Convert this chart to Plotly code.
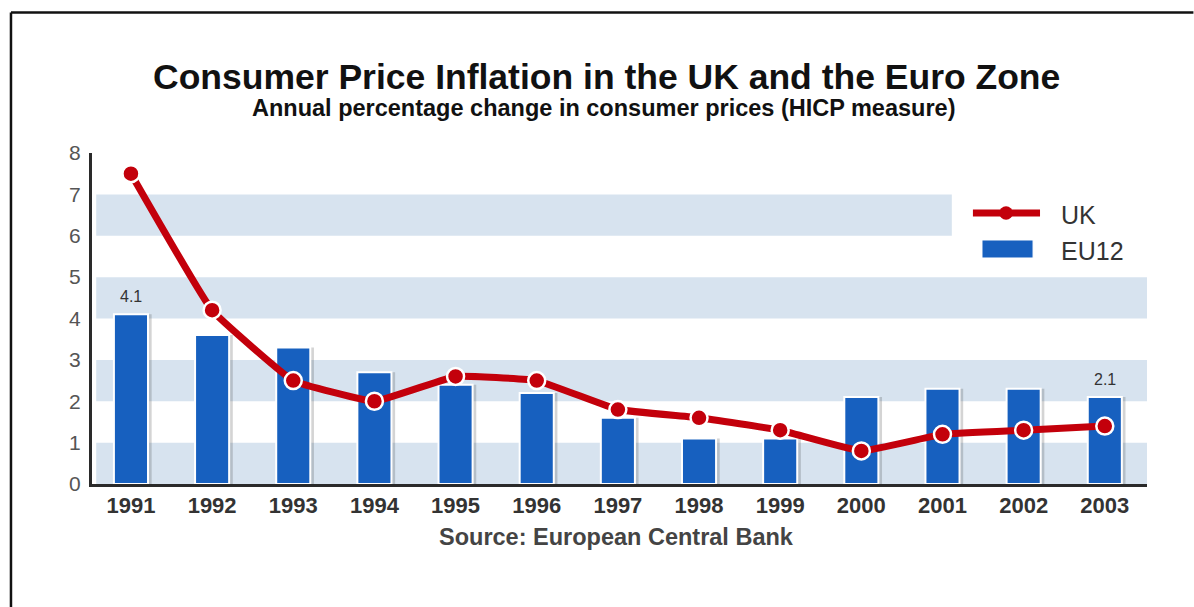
import plotly.graph_objects as go

# Annual HICP inflation, %
years = ["1991", "1992", "1993", "1994", "1995", "1996", "1997",
         "1998", "1999", "2000", "2001", "2002", "2003"]
uk = [7.5, 4.2, 2.5, 2.0, 2.6, 2.5, 1.8, 1.6, 1.3, 0.8, 1.2, 1.3, 1.4]
eu12 = [4.1, 3.6, 3.3, 2.7, 2.4, 2.2, 1.6, 1.1, 1.1, 2.1, 2.3, 2.3, 2.1]
y_ticks = [0, 1, 2, 3, 4, 5, 6, 7, 8]
labelled_years = [0, len(years) - 1]

RED = "#C3000B"
BLUE = "#1760BF"
BAND = "#D7E3EF"
FONT = "Liberation Sans, Arial, sans-serif"

idx = list(range(len(years)))
BAR_W = 0.42

fig = go.Figure()

# soft drop shadow behind each bar
fig.add_trace(go.Bar(
    x=idx, y=eu12, width=BAR_W, offset=-BAR_W / 2 + 0.045,
    marker=dict(color="rgba(60,60,60,0.22)", line=dict(width=0)),
    hoverinfo="skip", showlegend=False,
))
fig.add_trace(go.Bar(
    x=idx, y=eu12, width=BAR_W, offset=-BAR_W / 2, name="EU12",
    marker=dict(color=BLUE, line=dict(color="white", width=2)),
    showlegend=False,
))
fig.add_trace(go.Scatter(
    x=idx, y=uk, mode="lines+markers", name="UK",
    line=dict(color=RED, width=7, shape="spline", smoothing=0.3),
    marker=dict(size=17, color=RED, line=dict(color="white", width=2.5)),
    showlegend=False,
))

# horizontal bands at 0-1, 2-3, 4-5 and 6-7 (the top one stops at the legend)
shapes = []
for lo, x1 in [(0, 1.0), (2, 1.0), (4, 1.0), (6, 0.815)]:
    shapes.append(dict(type="rect", xref="x domain", yref="y", x0=0.004, x1=x1,
                       y0=lo, y1=lo + 1, fillcolor=BAND, line=dict(width=0),
                       layer="below"))

# legend drawn by hand: red line with dot, and a wide blue block
shapes += [
    dict(type="line", xref="paper", yref="paper", x0=0.835, x1=0.8986,
         y0=0.8187, y1=0.8187, line=dict(color=RED, width=7)),
    dict(type="circle", xref="paper", yref="paper", x0=0.8600, x1=0.8728,
         y0=0.8187 - 0.0205, y1=0.8187 + 0.0205,
         fillcolor=RED, line=dict(color=RED, width=0)),
    dict(type="rect", xref="paper", yref="paper", x0=0.8436, x1=0.8920,
         y0=0.6828, y1=0.7372, fillcolor=BLUE,
         line=dict(color="white", width=1)),
    # outer frame: left and top edges only
    dict(type="line", xref="paper", yref="paper", x0=-0.0768, x1=-0.0768,
         y0=-0.45, y1=1.4245, line=dict(color="#111111", width=2.5)),
    dict(type="line", xref="paper", yref="paper", x0=-0.0768, x1=1.044,
         y0=1.4245, y1=1.4245, line=dict(color="#111111", width=2.5)),
]

annotations = [
    dict(text="<b>Consumer Price Inflation in the UK and the Euro Zone</b>",
         xref="paper", yref="paper", x=0.488, y=1.2296, xanchor="center",
         yanchor="middle", showarrow=False,
         font=dict(family=FONT, size=35.5, color="#111111")),
    dict(text="<b>Annual percentage change in consumer prices (HICP measure)</b>",
         xref="paper", yref="paper", x=0.4845, y=1.137, xanchor="center",
         yanchor="middle", showarrow=False,
         font=dict(family=FONT, size=23.5, color="#111111")),
    dict(text="<b>Source: European Central Bank</b>",
         xref="paper", yref="paper", x=0.4975, y=-0.16, xanchor="center",
         yanchor="middle", showarrow=False,
         font=dict(family=FONT, size=23.5, color="#444444")),
    dict(text="UK", xref="paper", yref="paper", x=0.9166, y=0.8127,
         xanchor="left", yanchor="middle", showarrow=False,
         font=dict(family=FONT, size=25, color="#333333")),
    dict(text="EU12", xref="paper", yref="paper", x=0.9166, y=0.704,
         xanchor="left", yanchor="middle", showarrow=False,
         font=dict(family=FONT, size=25, color="#333333")),
]
for i in labelled_years:
    annotations.append(dict(
        text=f"{eu12[i]}", x=idx[i], y=eu12[i], xref="x", yref="y",
        xanchor="center", yanchor="bottom", yshift=7, showarrow=False,
        font=dict(family=FONT, size=16, color="#333333")))

fig.update_layout(
    width=1194, height=607,
    margin=dict(l=92, r=47, t=153, b=123),
    paper_bgcolor="white", plot_bgcolor="white",
    barmode="overlay",
    shapes=shapes, annotations=annotations,
    font=dict(family=FONT),
    xaxis=dict(
        range=[-0.48, 12.52], tickmode="array", tickvals=idx, ticktext=years,
        showgrid=False, zeroline=False, showline=True, linecolor="#2a2a2a",
        linewidth=2.5, ticks="",
        tickfont=dict(family=FONT, size=22, color="#333333", weight="bold"),
    ),
    yaxis=dict(
        range=[0, 8], tickmode="array", tickvals=y_ticks,
        showgrid=False, zeroline=False, showline=True, linecolor="#2a2a2a",
        linewidth=3, ticks="", ticklabelstandoff=4,
        tickfont=dict(family=FONT, size=21, color="#555555"),
    ),
)

fig.write_html("out.html", config={"displayModeBar": False})
